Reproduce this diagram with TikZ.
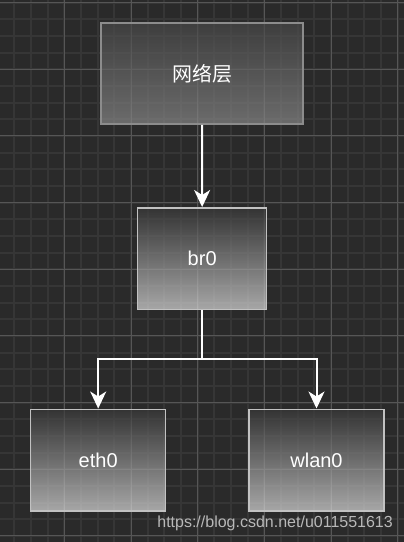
\documentclass[tikz,border=0pt]{standalone}
\usepackage{fontspec}
\setmainfont{Liberation Sans}
\newfontfamily\cjk{Noto Sans CJK SC}
\usetikzlibrary{arrows.meta}
\definecolor{bgcol}{HTML}{2A2A2A}
\definecolor{minorcol}{HTML}{363636}
\definecolor{majorcol}{HTML}{565656}

\begin{document}
\begin{tikzpicture}[x=1pt,y=-1pt,
  layer/.style={draw=white!55!black,line width=1.5pt,top color=white!28!black,bottom color=white!53!black,
    fill opacity=0.7,text opacity=1,text=white,inner sep=0pt,font=\fontsize{20}{24}\selectfont},
  iface/.style={draw=white!76!black,line width=1.5pt,top color=white!22!black,bottom color=white!86!black,
    fill opacity=0.7,text opacity=1,text=white,inner sep=0pt,font=\fontsize{20}{24}\selectfont},
  arr/.style={white,line width=2pt,-{Stealth[length=17pt,width=16pt,inset=5pt]}}]
\useasboundingbox (0,0) rectangle (404,542) ;
\fill[bgcol] (0,0) rectangle (404,542) ;
\foreach \i in {0,...,25} {
  \draw[minorcol,line width=2pt] (-2.2+16.667*\i,0) -- (-2.2+16.667*\i,542) ;
}
\foreach \j in {0,...,33} {
  \draw[minorcol,line width=2pt] (0,2.5+16.667*\j) -- (404,2.5+16.667*\j) ;
}
\foreach \i in {1,...,6} {
  \draw[majorcol,line width=1pt] (-2.2+66.667*\i,0) -- (-2.2+66.667*\i,542) ;
}
\foreach \j in {0,...,8} {
  \draw[majorcol,line width=1pt] (0,2.5+66.667*\j) -- (404,2.5+66.667*\j) ;
}
\node[layer,minimum width=202pt,minimum height=101pt] (net) at (202,73.5) {\cjk 网络层} ;
\node[iface,minimum width=129pt,minimum height=101.5pt] (br) at (202.2,258.5) {br0} ;
\node[iface,minimum width=135pt,minimum height=101.5pt] (eth) at (98.2,460) {eth0} ;
\node[iface,minimum width=135pt,minimum height=101.5pt] (wlan) at (316.5,460) {wlan0} ;
\coordinate (split) at (202.2,359) ;
\draw[arr] (net) -- (br) ;
\draw[arr] (br.south) -- (split) -| (eth.north) ;
\draw[arr] (split) -| (wlan.north) ;
\node[anchor=base east,text=white!72!black,font=\fontsize{16}{19}\selectfont,inner sep=0pt] (mark) at (393,527) {https://blog.csdn.net/u011551613} ;
\end{tikzpicture}
\end{document}
